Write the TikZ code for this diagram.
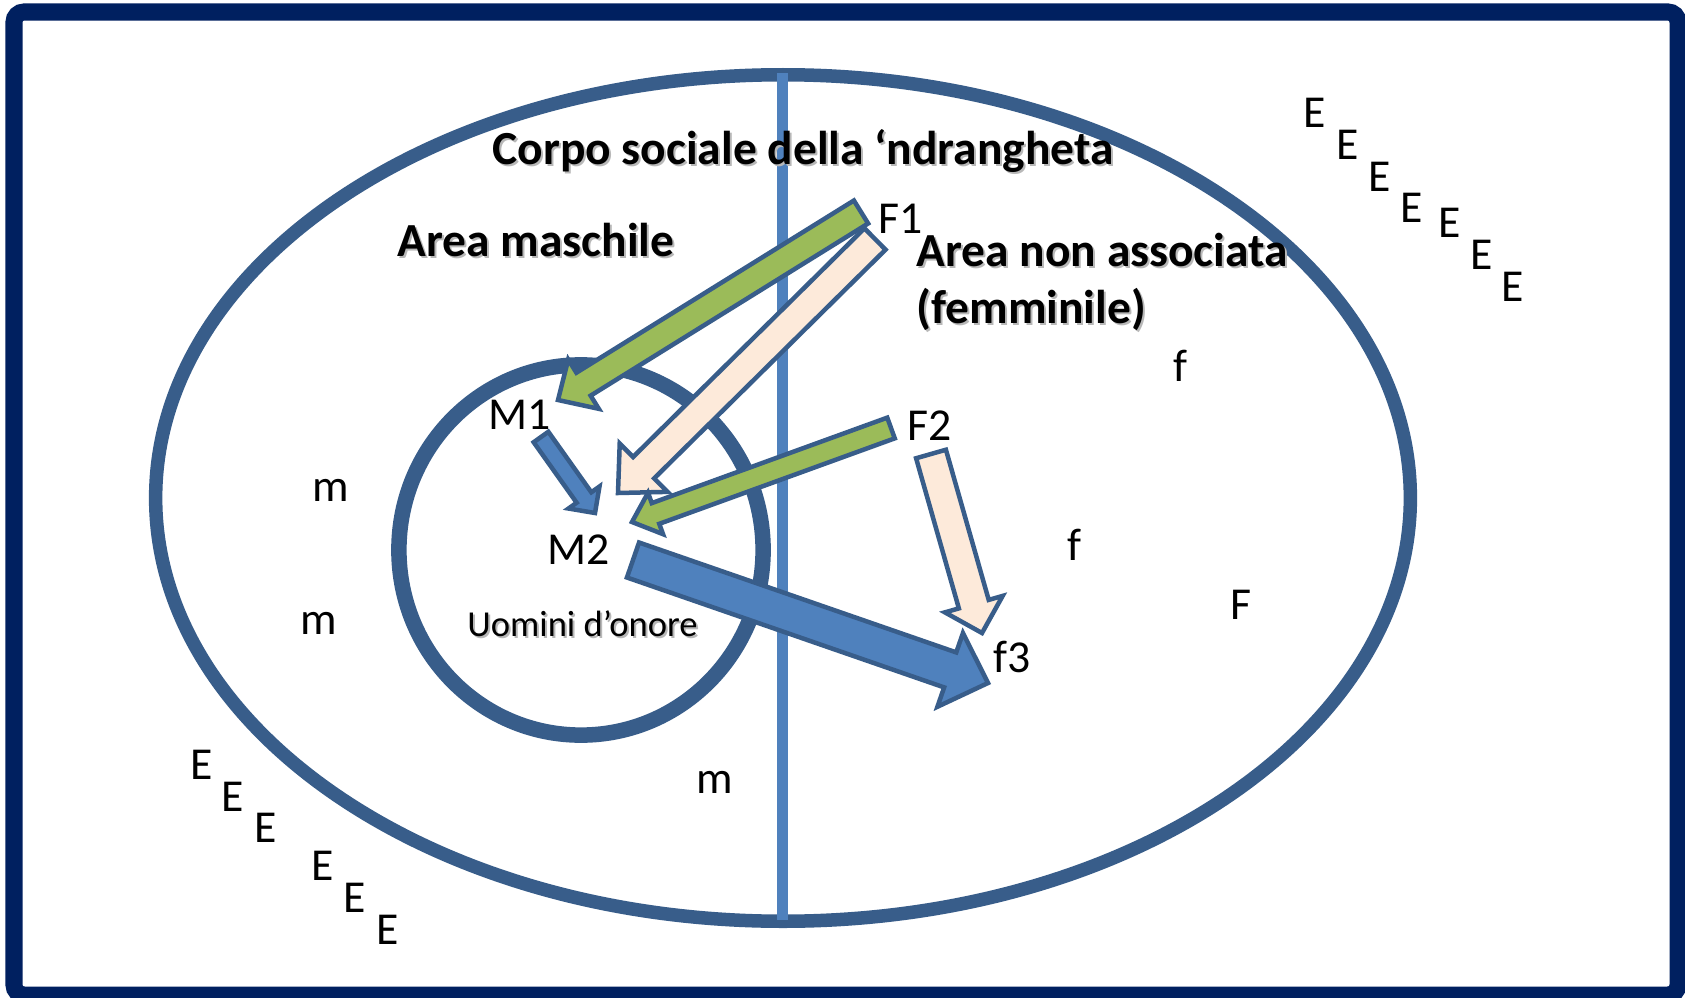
\documentclass[tikz,border=0pt]{standalone}
\usepackage{fontspec}
\setmainfont{Carlito}
\usetikzlibrary{calc}
\definecolor{navy}{HTML}{002060}
\definecolor{ring}{HTML}{385D8A}
\definecolor{axisblue}{HTML}{4F81BD}
\definecolor{agreen}{HTML}{9BBB59}
\definecolor{apeach}{HTML}{FDEADA}
\definecolor{ablue}{HTML}{4F81BD}
\tikzset{
  lbl/.style={inner sep=0pt, font=\fontsize{13}{15.6}\selectfont},
  blbl/.style={inner sep=0pt, font=\fontsize{13.5}{16.5}\selectfont\bfseries},
  slbl/.style={inner sep=0pt, font=\fontsize{10.4}{12.5}\selectfont},
  shd/.style={text=black!28},
  arrowline/.style={draw=ring, line width=0.045cm, line join=miter},
}
% fill, tail, tip, half shaft, half head, head length
\newcommand\blockarr[6]{%
  \coordinate (hb) at ($(#3)!#6!(#2)$);
  \draw[arrowline,fill=#1] ($(#2)!#4!90:(#3)$) -- ($(hb)!#4!90:(#3)$) -- ($(hb)!#5!90:(#3)$) -- (#3)
     -- ($(hb)!#5!-90:(#3)$) -- ($(hb)!#4!-90:(#3)$) -- ($(#2)!#4!-90:(#3)$) -- cycle;
}
\begin{document}
\begin{tikzpicture}[x=0.01cm,y=-0.01cm]
\useasboundingbox (0,0) rectangle (1685,997);
\fill[white] (0,0) rectangle (1685,997);
% frame
\draw[navy, line width=0.17cm, rounded corners=0.1cm] (14,12) rectangle (1678,995);
% ellipse and circle
\draw[ring, line width=0.135cm] (783,498) ellipse [x radius=6.27cm, y radius=4.23cm];
\draw[axisblue, line width=0.11cm] (782,73) -- (782,920);
\draw[ring, line width=0.155cm] (581,550) ellipse [x radius=1.82cm, y radius=1.85cm];

% title and area labels
\node[blbl,shd] (titleS) at (805,153) {Corpo sociale della ‘ndrangheta};
\node[blbl] (title) at (803,151) {Corpo sociale della ‘ndrangheta};
\node[blbl,shd] (maschS) at (538,242) {Area maschile};
\node[blbl] (masch) at (536,240) {Area maschile};
\node[blbl,shd,anchor=west] (nonassS) at (918,252) {Area non associata};
\node[blbl,anchor=west] (nonass) at (916,250) {Area non associata};
\node[blbl,shd,anchor=west] (femmS) at (918,311) {(femminile)};
\node[blbl,anchor=west] (femm) at (916,309) {(femminile)};
\node[slbl,shd] (uominiS) at (584.5,626) {Uomini d’onore};
\node[slbl] (uomini) at (582.5,624) {Uomini d’onore};

% arrow end points
\coordinate (g1t) at (861,212);  \coordinate (g1h) at (558,400);
\coordinate (p1t) at (875,239);  \coordinate (p1h) at (618,493);
\coordinate (g2t) at (891,428);  \coordinate (g2h) at (632,522);
\coordinate (p2t) at (931,454);  \coordinate (p2h) at (982,633);
\coordinate (b1t) at (541,437);  \coordinate (b1h) at (595,513);
\coordinate (b2t) at (633,560);  \coordinate (b2h) at (988,683);

\blockarr{agreen}{g1t}{g1h}{0.135cm}{0.29cm}{0.30cm}
\blockarr{apeach}{p1t}{p1h}{0.15cm}{0.34cm}{0.36cm}
\blockarr{agreen}{g2t}{g2h}{0.11cm}{0.22cm}{0.25cm}
\blockarr{apeach}{p2t}{p2h}{0.155cm}{0.30cm}{0.30cm}
\blockarr{ablue}{b1t}{b1h}{0.09cm}{0.19cm}{0.19cm}
\blockarr{ablue}{b2t}{b2h}{0.185cm}{0.39cm}{0.40cm}

% letter labels
\node[lbl] (F1) at (901,219) {F1};
\node[lbl] (M1) at (520,415) {M1};
\node[lbl] (M2) at (579,550) {M2};
\node[lbl] (F2) at (930,426) {F2};
\node[lbl] (fa) at (1180,366) {f};
\node[lbl] (fb) at (1074,545) {f};
\node[lbl] (Fc) at (1241,605) {F};
\node[lbl] (f3) at (1012,657) {f3};
\node[lbl] (ma) at (331,490) {m};
\node[lbl] (mb) at (319,623) {m};
\node[lbl] (mc) at (715,782) {m};

% E's top right
\node[lbl] (e1) at (1315,113) {E};
\node[lbl] (e2) at (1348,145) {E};
\node[lbl] (e3) at (1380,177) {E};
\node[lbl] (e4) at (1412,208) {E};
\node[lbl] (e5) at (1450,223) {E};
\node[lbl] (e6) at (1482,255) {E};
\node[lbl] (e7) at (1513,287) {E};
% E's bottom left
\node[lbl] (e8) at (202,765) {E};
\node[lbl] (e9) at (233,797) {E};
\node[lbl] (e10) at (266,828) {E};
\node[lbl] (e11) at (323,866) {E};
\node[lbl] (e12) at (355,898) {E};
\node[lbl] (e13) at (388,930) {E};
\end{tikzpicture}
\end{document}
